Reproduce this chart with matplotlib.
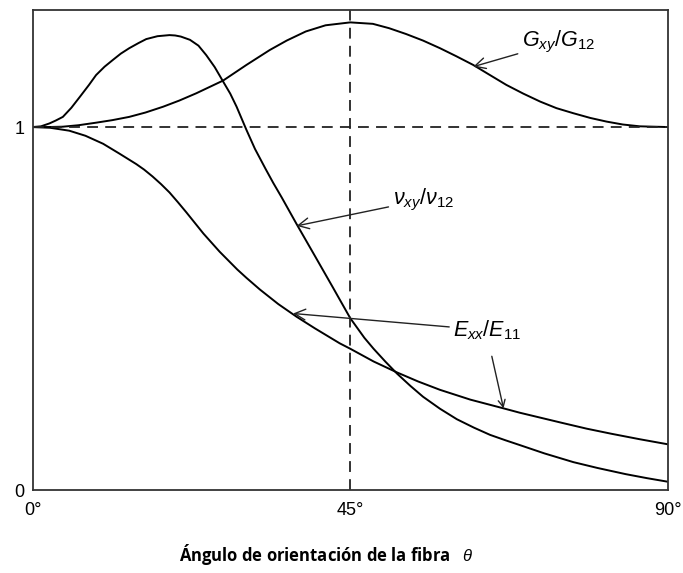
import matplotlib.pyplot as plt

plt.rcParams['font.family'] = ['Liberation Sans', 'DejaVu Sans']
plt.rcParams['mathtext.fontset'] = 'custom'
plt.rcParams['mathtext.rm'] = 'Liberation Sans'
plt.rcParams['mathtext.it'] = 'Liberation Sans:italic'

# curves (angle in degrees, ratio)
g_ang = [0, 2, 4.3, 6.5, 9, 11.3, 13.7, 16, 18.5, 20.8, 23.2, 27, 30.3, 33.6,
         36, 38.7, 41.5, 45, 48.2, 50.5, 52.9, 55.3, 57.7, 60, 62.4, 64.7,
         67.1, 69.5, 71.9, 74.2, 76.6, 79, 81.3, 83.6, 86, 90]
g_val = [1.0, 1.0, 1.001, 1.005, 1.012, 1.019, 1.028, 1.04, 1.056, 1.073,
         1.093, 1.128, 1.171, 1.212, 1.238, 1.263, 1.28, 1.288, 1.284, 1.272,
         1.256, 1.238, 1.217, 1.195, 1.171, 1.144, 1.116, 1.092, 1.07, 1.052,
         1.038, 1.025, 1.015, 1.007, 1.002, 1.0]

nu_ang = [0, 1.2, 2.4, 3.3, 4.3, 5.5, 6.7, 8, 9, 10.2, 11.4, 12.5, 13.7, 15,
          16.1, 17.7, 19.4, 20.2, 21, 22.3, 22.9, 23.5, 24.6, 25.8, 27, 28,
          28.9, 30.3, 31.5, 33, 34.1, 35.3, 37.4, 40, 42.5, 45, 47, 48.3, 50,
          51.6, 53.5, 55.3, 57.7, 60.1, 62.5, 64.8, 67, 69, 72.5, 76.6, 80,
          84, 87, 90]
nu_val = [1.0, 1.002, 1.01, 1.018, 1.028, 1.053, 1.083, 1.116, 1.143, 1.166,
          1.185, 1.202, 1.217, 1.231, 1.242, 1.25, 1.253, 1.252, 1.249, 1.24,
          1.232, 1.224, 1.198, 1.165, 1.125, 1.092, 1.056, 0.992, 0.94, 0.885,
          0.846, 0.806, 0.733, 0.645, 0.56, 0.474, 0.42, 0.39, 0.354, 0.322,
          0.288, 0.258, 0.225, 0.196, 0.173, 0.153, 0.138, 0.125, 0.102,
          0.078, 0.062, 0.045, 0.034, 0.024]

e_ang = [0, 2.5, 5.2, 7.5, 10, 12.3, 14.7, 15.8, 17, 18.2, 19.4, 20.6, 21.8,
         24.2, 26.5, 29, 30.3, 32.2, 34.8, 37.4, 40, 43.5, 45, 48.3, 51.6,
         54.6, 57.7, 62, 66.7, 69, 72, 75, 78.5, 82, 86, 90]
e_val = [1.0, 0.998, 0.99, 0.976, 0.954, 0.927, 0.898, 0.883, 0.864, 0.843,
         0.82, 0.793, 0.765, 0.707, 0.657, 0.608, 0.585, 0.553, 0.513, 0.478,
         0.446, 0.405, 0.39, 0.355, 0.325, 0.3, 0.277, 0.25, 0.226, 0.214,
         0.2, 0.186, 0.17, 0.156, 0.141, 0.127]

x_ticks = [0, 45, 90]
x_ticklabels = ['0°', '45°', '90°']
y_ticks = [0, 1]
y_ticklabels = ['0', '1']

fig = plt.figure(figsize=(6.83, 5.73), dpi=100)
ax = fig.add_axes([0.0476, 0.144, 0.9305, 0.8385])

ax.plot(g_ang, g_val, color='black', lw=1.4)
ax.plot(nu_ang, nu_val, color='black', lw=1.4)
ax.plot(e_ang, e_val, color='black', lw=1.4)

# reference lines
ax.axhline(1, color='#222222', lw=1.3, ls=(0, (6, 4)))
ax.axvline(45, color='#222222', lw=1.3, ls=(0, (6, 4)))

ax.set_xlim(0, 90)
ax.set_ylim(0, 1.322)
ax.set_xticks(x_ticks)
ax.set_xticklabels(x_ticklabels, fontsize=13)
ax.set_yticks(y_ticks)
ax.set_yticklabels(y_ticklabels, fontsize=13)
ax.tick_params(length=0, pad=8)
ax.tick_params(axis='y', pad=6)
for s in ax.spines.values():
    s.set_color('#333333')
    s.set_linewidth(1.3)

ax.set_xlabel('Ángulo de orientación de la fibra   $\\theta$', family=['Open Sans', 'DejaVu Sans'],
              fontweight='bold', fontsize=12)
ax.xaxis.set_label_coords(0.463, -0.108)

arrow = dict(arrowstyle='->,head_length=0.5,head_width=0.25', color='#222222', lw=1,
             shrinkA=1, shrinkB=0)

ax.annotate('$G_{xy}/G_{12}$', xy=(62.4, 1.166), xytext=(69.3, 1.234),
            fontsize=15.5, ha='left', va='center', arrowprops=arrow)
ax.annotate('$\\nu_{xy}/\\nu_{12}$', xy=(37.4, 0.728), xytext=(51.0, 0.80),
            fontsize=15.5, ha='left', va='center', arrowprops=arrow)
ax.annotate('$E_{xx}/E_{11}$', xy=(36.9, 0.487), xytext=(59.6, 0.441),
            fontsize=15.5, ha='left', va='center', arrowprops=arrow)
ax.annotate('', xy=(66.7, 0.226), xytext=(65.0, 0.373), arrowprops=arrow)

fig.savefig('out.png', dpi=100)
